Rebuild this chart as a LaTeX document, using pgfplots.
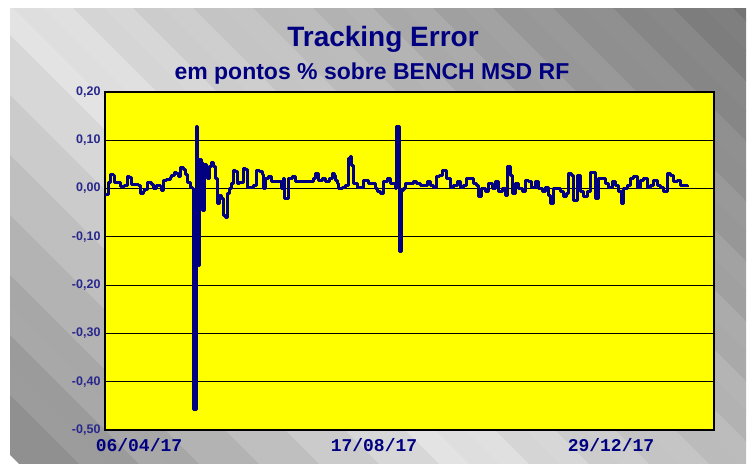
\documentclass[border=0pt]{standalone}
\usepackage{pgfplots}
\pgfplotsset{compat=1.18}
\usepackage{fontspec}
\setmainfont{Liberation Sans}
\newfontfamily\monofont{Liberation Mono}
\definecolor{navy}{RGB}{0,0,128}
\definecolor{ticknavy}{RGB}{40,40,140}
\definecolor{plotyellow}{RGB}{255,255,0}
\begin{document}
\begin{tikzpicture}
\useasboundingbox (0,0) rectangle (748pt,464pt);
\fill[white] (0,0) rectangle (748pt,464pt);
\begin{scope}[x=1pt,y=1pt]
\clip (10,0) rectangle (746,455);
\foreach \i in {0,...,41} {
  \pgfmathsetmacro\a{19+30*\i}
  \pgfmathsetmacro\b{\a+31}
  \pgfmathsetmacro\m{\a+15}
  \pgfmathsetmacro\p{(\m<470) ? (54+(\m-19)/451*35) : (89-(\m-470)/731*42)}
  \pgfmathsetmacro\q{\p + (mod(\i,2)==0 ? 1.2 : -1.2)}
  \fill[white!\q!black] (\a+100,-100) -- (\a-600,600) -- (\b-600,600) -- (\b+100,-100) -- cycle;
}
\end{scope}
\node[anchor=base, text=navy, font=\fontsize{28}{30}\selectfont\bfseries] at (383pt,417pt) {Tracking Error};
\node[anchor=base, text=navy, font=\fontsize{23}{25}\selectfont\bfseries] at (372pt,384pt) {em pontos \% sobre BENCH MSD RF};
\begin{axis}[
  at={(105pt,34pt)}, anchor=south west,
  scale only axis, width=609pt, height=338pt,
  xmin=0, xmax=609, ymin=-0.5, ymax=0.2,
  axis background/.style={fill=plotyellow},
  axis line style={black, line width=1.5pt},
  ymajorgrids, grid style={black, line width=1.2pt},
  major tick length=0pt,
  xtick={34,269,506},
  xticklabels={06/04/17,17/08/17,29/12/17},
  ytick={-0.5,-0.4,-0.3,-0.2,-0.1,0,0.1,0.2},
  yticklabels={{-0,50},{-0,40},{-0,30},{-0,20},{-0,10},{0,00},{0,10},{0,20}},
  xticklabel style={font=\monofont\fontsize{18}{18}\selectfont\bfseries, text=navy, yshift=-5pt},
  yticklabel style={font=\fontsize{12.5}{13}\selectfont\bfseries, text=ticknavy, xshift=-1pt},
]
\addplot[const plot, color=navy, line width=3pt, line join=bevel] table {
0 -0.012
2.3 -0.012
3.3 0.012
6 0.030
8.3 0.028
10 0.012
13.3 0.012
15.7 0.004
20 0.006
22.3 0.026
25 0.023
26.7 0.009
31.7 0.009
33.3 0.007
35.7 -0.010
38.3 -0.007
40 -0.001
42.3 0.012
45 0.012
46.7 0.009
49 0.000
51.7 0.006
55 0.004
56.7 -0.005
58.3 0.016
61.7 0.019
65 0.023
66.7 0.028
69 0.033
71.7 0.032
73.3 0.025
75.7 0.044
78.3 0.040
80 0.030
82.3 0.012
85 0.002
87 0.000
88.5 -0.458
91 0.128
92.5 -0.160
94 0.060
96 0.055
97.5 -0.045
99 0.050
101 0.045
102.5 0.020
104 0.045
106 0.055
108 0.045
110 0.020
112 -0.030
114 -0.015
116 -0.020
118 -0.055
120 -0.060
122 -0.010
124 0.000
126 0.010
128 0.038
130 0.036
132 0.010
134 0.012
136 0.012
138 0.042
140 0.040
142 0.003
146 0.003
148 0.006
151 0.038
154 0.036
157 0.030
158 0.000
160 0.020
163 0.024
166 0.014
175 0.014
176 0.000
178 0.020
179 -0.020
183 0.020
187 0.024
190 0.014
205 0.014
208 0.020
210 0.031
213 0.030
213.5 0.017
217 0.020
220 0.014
224 0.020
227 0.031
229 0.028
230 0.017
232 0.010
233 0.000
237 0.003
240 0.007
242 0.006
243 0.062
245 0.067
246 0.048
247 0.048
248 0.010
252 0.003
255 0.003
258 0.017
261 0.017
263 0.010
268 0.010
270 0.000
272 -0.007
275 -0.010
278 0.014
282 0.020
285 0.010
288 0.010
290 0.000
291.5 0.128
294 -0.130
296 -0.005
298 0.000
300 0.010
305 0.010
308 0.014
311 0.010
315 0.007
320 0.007
322 0.014
325 0.007
328 0.003
331 0.024
334 0.028
337 0.037
340 0.037
341.5 0.020
345 0.003
348 0.007
352 0.014
355 0.003
358 0.007
361 0.021
365 0.021
368 0.010
371 0.007
373 -0.017
376 0.000
380 -0.007
383 0.010
387 0.000
390 0.014
393 -0.007
397 0.000
400 -0.014
402 0.045
405 0.028
407 -0.010
410 0.010
413 0.000
417 -0.007
420 0.017
423 0.014
426 0.003
430 0.014
433 0.000
437 -0.007
440 0.003
443 -0.014
445 -0.031
448 0.000
452 0.000
455 -0.007
458 -0.017
461 -0.010
463 0.031
466 0.028
468 -0.024
472 0.028
475 -0.007
478 -0.017
482 -0.007
485 0.034
488 0.034
490 -0.021
493 0.021
497 0.021
500 0.010
503 0.003
507 0.014
510 0.007
513 -0.007
516 -0.031
518 0.000
522 0.007
525 0.021
528 0.024
532 0.003
535 0.017
538 0.021
542 0.003
545 0.007
548 0.017
552 0.007
555 0.003
558 -0.007
562 0.031
565 0.028
568 0.014
572 0.017
575 0.007
579 0.007
582 0.003
};
\end{axis}
\end{tikzpicture}
\end{document}
